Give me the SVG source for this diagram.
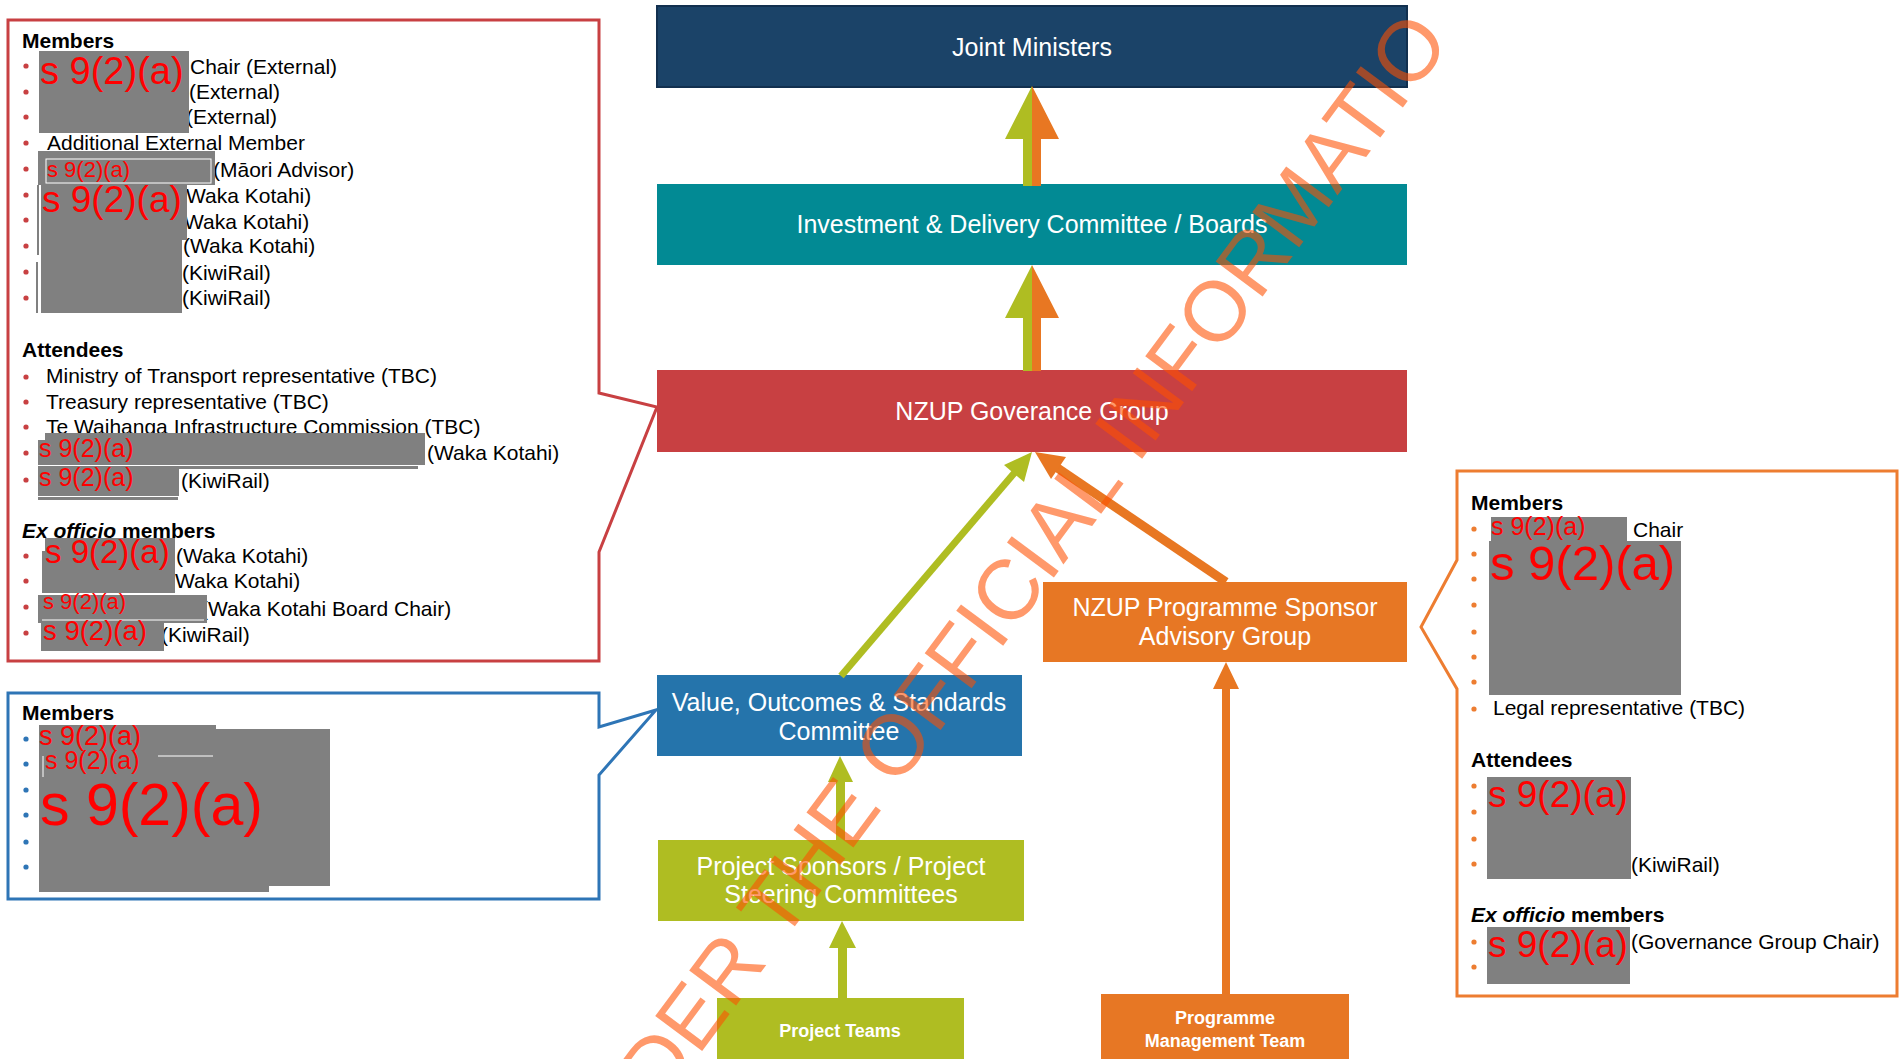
<svg xmlns="http://www.w3.org/2000/svg" width="1899" height="1059" viewBox="0 0 1899 1059">
<style>
  text { font-family: "Liberation Sans", Arial, sans-serif; }
  .bt { font-size: 25px; fill: #ffffff; text-anchor: middle; }
  .st { font-size: 18px; font-weight: bold; fill: #ffffff; text-anchor: middle; }
  .p { font-size: 21px; fill: #000000; }
  .h { font-size: 21px; font-weight: bold; fill: #000000; }
  .rd { fill: #808080; }
  .rt { fill: #ff0000; }
  .br { fill: #c84042; }
  .bb { fill: #2e75b6; }
  .bo { fill: #ed7d31; }
  .panel { fill: #ffffff; stroke-width: 3; }
  .wm { font-size: 85px; fill: #ff5000; fill-opacity: 0.58; }
</style>

<!-- Governance group callout panel (red) -->
<g id="panel-governance">
  <path class="panel" stroke="#c84042" d="M8,20 H599 V393 L657,407 L599,552 V661 H8 Z"/>
  <text class="h" x="22" y="48">Members</text>
  <g>
    <circle class="br" cx="26" cy="66" r="2.6"/><circle class="br" cx="26" cy="92" r="2.6"/>
    <circle class="br" cx="26" cy="117" r="2.6"/><circle class="br" cx="26" cy="143" r="2.6"/>
    <circle class="br" cx="26" cy="169" r="2.6"/><circle class="br" cx="26" cy="195" r="2.6"/>
    <circle class="br" cx="26" cy="220" r="2.6"/><circle class="br" cx="26" cy="246" r="2.6"/>
    <circle class="br" cx="26" cy="272" r="2.6"/><circle class="br" cx="26" cy="298" r="2.6"/>
  </g>
  <text class="p" x="190" y="74">Chair (External)</text>
  <text class="p" x="189" y="99">(External)</text>
  <text class="p" x="186" y="124">(External)</text>
  <text class="p" x="47" y="150">Additional External Member</text>
  <text class="p" x="213" y="177">(Māori Advisor)</text>
  <text class="p" x="179" y="203">(Waka Kotahi)</text>
  <text class="p" x="177" y="229">(Waka Kotahi)</text>
  <text class="p" x="183" y="253">(Waka Kotahi)</text>
  <text class="p" x="182" y="280">(KiwiRail)</text>
  <text class="p" x="182" y="305">(KiwiRail)</text>
  <rect class="rd" x="39" y="51" width="150" height="82"/>
  <text class="rt" x="40" y="84" font-size="38">s 9(2)(a)</text>
  <rect class="rd" x="38" y="151" width="177" height="34"/>
  <rect x="46" y="159" width="165" height="24" fill="none" stroke="#ffffff" stroke-width="1"/>
  <text class="rt" x="47" y="177" font-size="22">s 9(2)(a)</text>
  <rect class="rd" x="41" y="185" width="146" height="55"/>
  <rect class="rd" x="41" y="240" width="141" height="73"/>
  <rect class="rd" x="37" y="185" width="2" height="70"/>
  <rect class="rd" x="36" y="262" width="2" height="51"/>
  <text class="rt" x="42" y="212" font-size="37">s 9(2)(a)</text>

  <text class="h" x="22" y="357">Attendees</text>
  <g>
    <circle class="br" cx="26" cy="377" r="2.6"/><circle class="br" cx="26" cy="402" r="2.6"/>
    <circle class="br" cx="26" cy="427" r="2.6"/><circle class="br" cx="26" cy="453" r="2.6"/>
    <circle class="br" cx="26" cy="480" r="2.6"/>
  </g>
  <text class="p" x="46" y="383">Ministry of Transport representative (TBC)</text>
  <text class="p" x="46" y="409">Treasury representative (TBC)</text>
  <text class="p" x="46" y="434">Te Waihanga Infrastructure Commission (TBC)</text>
  <rect class="rd" x="45" y="433" width="380" height="32"/>
  <rect class="rd" x="38" y="440" width="8" height="25"/>
  <rect class="rd" x="38" y="466" width="380" height="3"/>
  <text class="rt" x="39" y="457" font-size="25">s 9(2)(a)</text>
  <text class="p" x="427" y="460">(Waka Kotahi)</text>
  <rect class="rd" x="38" y="469" width="141" height="27"/>
  <rect class="rd" x="38" y="497" width="140" height="3"/>
  <text class="rt" x="39" y="486" font-size="25">s 9(2)(a)</text>
  <text class="p" x="181" y="488">(KiwiRail)</text>

  <text class="h" x="22" y="538"><tspan font-style="italic">Ex officio</tspan> members</text>
  <g>
    <circle class="br" cx="26" cy="556" r="2.6"/><circle class="br" cx="26" cy="581" r="2.6"/>
    <circle class="br" cx="26" cy="607" r="2.6"/><circle class="br" cx="26" cy="633" r="2.6"/>
  </g>
  <text class="p" x="176" y="563">(Waka Kotahi)</text>
  <text class="p" x="168" y="588">(Waka Kotahi)</text>
  <text class="p" x="201" y="616">(Waka Kotahi Board Chair)</text>
  <text class="p" x="161" y="642">(KiwiRail)</text>
  <rect class="rd" x="45" y="538" width="130" height="55"/>
  <rect class="rd" x="42" y="551" width="3" height="42"/>
  <text class="rt" x="45" y="563" font-size="33">s 9(2)(a)</text>
  <rect class="rd" x="38" y="595" width="169" height="28"/>
  <line x1="42" y1="620" x2="204" y2="620" stroke="#ffffff" stroke-width="1"/>
  <text class="rt" x="43" y="609" font-size="22">s 9(2)(a)</text>
  <rect class="rd" x="41" y="621" width="123" height="30"/>
  <text class="rt" x="43" y="640" font-size="27.5">s 9(2)(a)</text>
</g>

<!-- VOSC callout panel (blue) -->
<g id="panel-vosc">
  <path class="panel" stroke="#2e75b6" d="M8,693 H599 V727 L656,710 L599,775 V899 H8 Z"/>
  <text class="h" x="22" y="720">Members</text>
  <g>
    <circle class="bb" cx="26" cy="739" r="2.6"/><circle class="bb" cx="26" cy="764" r="2.6"/>
    <circle class="bb" cx="26" cy="790" r="2.6"/><circle class="bb" cx="26" cy="815" r="2.6"/>
    <circle class="bb" cx="26" cy="842" r="2.6"/><circle class="bb" cx="26" cy="867" r="2.6"/>
  </g>
  <rect class="rd" x="39" y="725" width="177" height="32"/>
  <rect class="rd" x="39" y="729" width="291" height="157"/>
  <rect class="rd" x="39" y="757" width="230" height="135"/>
  <line x1="158" y1="756" x2="213" y2="756" stroke="#ffffff" stroke-width="1"/>
  <line x1="43" y1="756" x2="43" y2="777" stroke="#ffffff" stroke-width="1"/>
  <text class="rt" x="39" y="745" font-size="27">s 9(2)(a)</text>
  <text class="rt" x="45" y="769" font-size="25">s 9(2)(a)</text>
  <text class="rt" x="40" y="825" font-size="59">s 9(2)(a)</text>
</g>

<!-- Programme Sponsor Advisory Group callout panel (orange) -->
<g id="panel-sponsor">
  <path class="panel" stroke="#ed7d31" d="M1457,471 H1897 V996 H1457 V689 L1421,627 L1457,560 Z"/>
  <text class="h" x="1471" y="510">Members</text>
  <g>
    <circle class="bo" cx="1474" cy="529" r="2.6"/><circle class="bo" cx="1474" cy="554" r="2.6"/>
    <circle class="bo" cx="1474" cy="579" r="2.6"/><circle class="bo" cx="1474" cy="605" r="2.6"/>
    <circle class="bo" cx="1474" cy="632" r="2.6"/><circle class="bo" cx="1474" cy="657" r="2.6"/>
    <circle class="bo" cx="1474" cy="682" r="2.6"/><circle class="bo" cx="1474" cy="709" r="2.6"/>
  </g>
  <rect class="rd" x="1491" y="517" width="136" height="24"/>
  <text class="rt" x="1491" y="535" font-size="25">s 9(2)(a)</text>
  <text class="p" x="1633" y="537">Chair</text>
  <rect class="rd" x="1489" y="541" width="192" height="154"/>
  <text class="rt" x="1490" y="580" font-size="49">s 9(2)(a)</text>
  <text class="p" x="1493" y="715">Legal representative (TBC)</text>
  <text class="h" x="1471" y="767">Attendees</text>
  <g>
    <circle class="bo" cx="1474" cy="786" r="2.6"/><circle class="bo" cx="1474" cy="812" r="2.6"/>
    <circle class="bo" cx="1474" cy="839" r="2.6"/><circle class="bo" cx="1474" cy="864" r="2.6"/>
  </g>
  <rect class="rd" x="1487" y="777" width="144" height="102"/>
  <text class="rt" x="1488" y="807" font-size="37">s 9(2)(a)</text>
  <text class="p" x="1631" y="872">(KiwiRail)</text>
  <text class="h" x="1471" y="922"><tspan font-style="italic">Ex officio</tspan> members</text>
  <g>
    <circle class="bo" cx="1474" cy="942" r="2.6"/><circle class="bo" cx="1474" cy="967" r="2.6"/>
  </g>
  <rect class="rd" x="1487" y="927" width="143" height="57"/>
  <text class="rt" x="1488" y="957" font-size="37">s 9(2)(a)</text>
  <text class="p" x="1631" y="949">(Governance Group Chair)</text>
</g>

<!-- Nodes -->
<g id="joint-ministers">
  <rect x="657" y="6" width="750" height="81" fill="#1b4368" stroke="#12304f" stroke-width="2"/>
  <text class="bt" x="1032" y="56">Joint Ministers</text>
</g>
<g id="investment-delivery">
  <rect x="657" y="184" width="750" height="81" fill="#028a94"/>
  <text class="bt" x="1032" y="233">Investment &amp; Delivery Committee / Boards</text>
</g>
<g id="governance-group">
  <rect x="657" y="370" width="750" height="82" fill="#c84042"/>
  <text class="bt" x="1032" y="420">NZUP Goverance Group</text>
</g>
<g id="sponsor-advisory">
  <rect x="1043" y="582" width="364" height="80" fill="#e77724"/>
  <text class="bt" x="1225" y="616">NZUP Programme Sponsor</text>
  <text class="bt" x="1225" y="645">Advisory Group</text>
</g>
<g id="vosc">
  <rect x="657" y="675" width="365" height="81" fill="#2574ab"/>
  <text class="bt" x="839" y="711">Value, Outcomes &amp; Standards</text>
  <text class="bt" x="839" y="740">Committee</text>
</g>
<g id="project-sponsors">
  <rect x="658" y="840" width="366" height="81" fill="#afbd22"/>
  <text class="bt" x="841" y="875">Project Sponsors / Project</text>
  <text class="bt" x="841" y="903">Steering Committees</text>
</g>
<g id="project-teams">
  <rect x="717" y="998" width="247" height="70" fill="#afbd22"/>
  <text class="st" x="840" y="1037">Project Teams</text>
</g>
<g id="programme-management">
  <rect x="1101" y="994" width="248" height="70" fill="#e77724"/>
  <text class="st" x="1225" y="1024">Programme</text>
  <text class="st" x="1225" y="1047">Management Team</text>
</g>

<!-- Connectors -->
<g id="connectors">
  <!-- Investment -> Joint Ministers (split green/orange) -->
  <polygon fill="#afbd22" points="1032,86 1005,139 1023,139 1023,186 1032,186"/>
  <polygon fill="#e87722" points="1032,86 1059,139 1041,139 1041,186 1032,186"/>
  <!-- Governance -> Investment (split green/orange) -->
  <polygon fill="#afbd22" points="1032,265 1005,318 1023,318 1023,371 1032,371"/>
  <polygon fill="#e87722" points="1032,265 1059,318 1041,318 1041,371 1032,371"/>
  <!-- VOSC -> Governance (green diagonal) -->
  <line x1="841" y1="676" x2="1016" y2="471" stroke="#afbd22" stroke-width="7"/>
  <polygon fill="#afbd22" points="1032,452 1024,482 1004,465"/>
  <!-- Sponsor Advisory -> Governance (orange diagonal) -->
  <line x1="1226" y1="582" x2="1056" y2="467" stroke="#e87722" stroke-width="9"/>
  <polygon fill="#e87722" points="1035,452 1066,457 1051,479"/>
  <!-- Project Sponsors -> VOSC -->
  <polygon fill="#afbd22" points="840,756 828,782 836,782 836,840 845,840 845,782 853,782"/>
  <!-- Project Teams -> Project Sponsors -->
  <polygon fill="#afbd22" points="842,921 829,948 838,948 838,998 847,998 847,948 856,948"/>
  <!-- Programme Management -> Sponsor Advisory -->
  <polygon fill="#e87722" points="1226,662 1213,689 1222,689 1222,994 1230,994 1230,689 1239,689"/>
</g>

<!-- Watermark -->
<text class="wm" transform="translate(893,742) rotate(-53.4)" x="-430" y="31">DER THE OFFICIAL INFORMATIO</text>
</svg>
